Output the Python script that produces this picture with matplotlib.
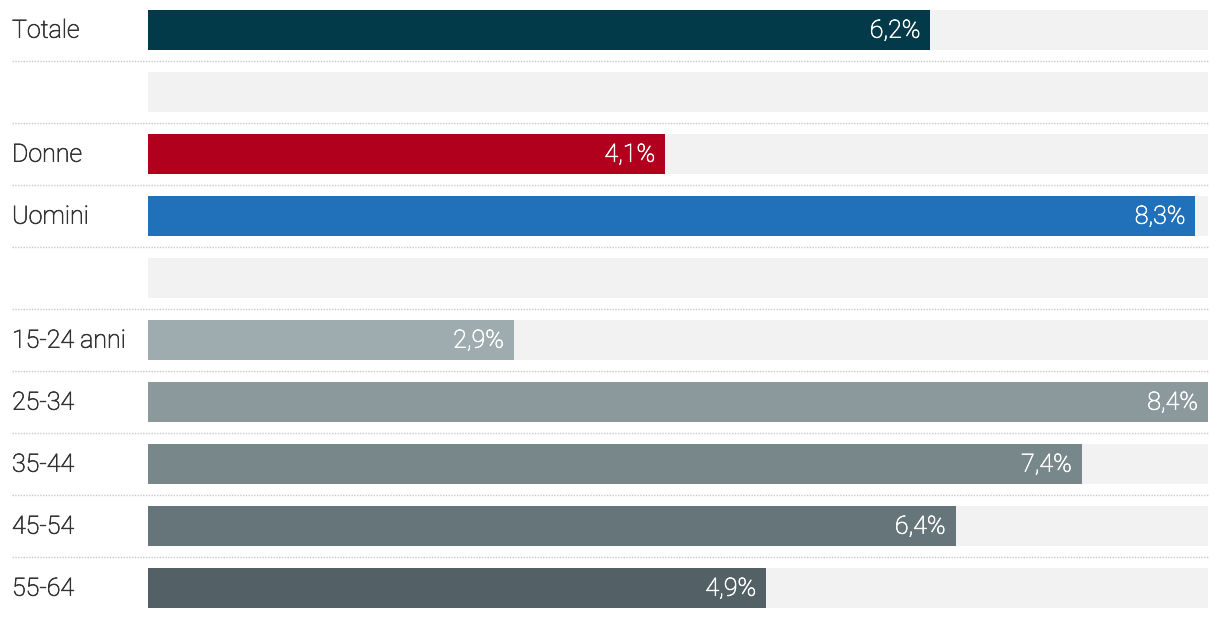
import matplotlib.pyplot as plt
import matplotlib.patheffects as pe
from matplotlib import font_manager as fm

# dati
categorie = ['Totale', '', 'Donne', 'Uomini', '', '15-24 anni', '25-34', '35-44', '45-54', '55-64']
valori = [6.2, None, 4.1, 8.3, None, 2.9, 8.4, 7.4, 6.4, 4.9]
colori = ['#033a4a', None, '#b0001e', '#2070ba', None,
          '#9eabaf', '#8b999c', '#78878a', '#66757a', '#536166']
massimo = 8.4

nomi = {f.name for f in fm.fontManager.ttflist}
font = 'Roboto' if 'Roboto' in nomi else 'DejaVu Sans'
plt.rcParams['font.family'] = [font, 'DejaVu Sans']

W, H = 1220, 618
fig = plt.figure(figsize=(W / 100, H / 100), dpi=100)
x0, x1 = 148, 1208
ax = fig.add_axes([x0 / W, 0, (x1 - x0) / W, 1])
passo = 62
ax.set_xlim(0, massimo)
ax.set_ylim((H - 30) / passo, -30 / passo)
ax.axis('off')

h = 40 / passo
y = list(range(len(categorie)))
ax.barh(y, [massimo] * len(y), height=h, color='#f2f2f2', zorder=1)
for i, (c, v, col) in enumerate(zip(categorie, valori, colori)):
    if v is not None:
        ax.barh(i, v, height=h, color=col, zorder=2)
        ax.text(v - 10 / (x1 - x0) * massimo, i - 0.03, f'{v:.1f}%'.replace('.', ','),
                ha='right', va='center_baseline', color='white', fontsize=18,
                fontweight='light', zorder=3,
                path_effects=[pe.withStroke(linewidth=0.5, foreground='white')])
    if c:
        ax.text(-(x0 - 12) / (x1 - x0) * massimo, i - 0.03, c, ha='left',
                va='center_baseline', color='#333333', fontsize=18,
                fontweight='light', clip_on=False,
                path_effects=[pe.withStroke(linewidth=0.5, foreground='#333333')])
    if i < len(categorie) - 1:
        ax.plot([-(x0 - 12) / (x1 - x0) * massimo, massimo], [i + 0.5, i + 0.5],
                ls=(0, (1, 1)), lw=1, color='#c8c8c8', clip_on=False, zorder=0)

fig.savefig('out.png', dpi=100)
